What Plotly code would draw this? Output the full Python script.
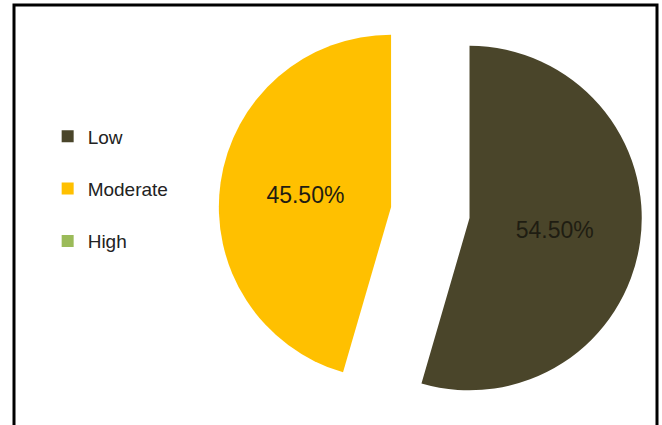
import plotly.graph_objects as go

categories = ["Low", "Moderate", "High"]
values = [54.5, 45.5, 0.0]
colors = ["#4A452A", "#FFC000", "#9BBB59"]

legend_labels = [c + "<br> " for c in categories]
text_labels = [f"{v:.2f}%" for v in values]

fig = go.Figure(
    go.Pie(
        labels=legend_labels,
        values=values,
        text=text_labels,
        textinfo="text",
        textposition="inside",
        insidetextorientation="horizontal",
        textfont=dict(family="Liberation Sans Narrow, Liberation Sans, sans-serif", size=23, color="#1f1d12"),
        marker=dict(colors=colors, line=dict(width=0)),
        sort=False,
        direction="clockwise",
        rotation=0,
        pull=[0.23, 0.23, 0.0],
        domain=dict(x=[0.33, 0.97], y=[0.0, 1.0]),
        hoverinfo="skip",
    )
)

fig.update_layout(
    width=662,
    height=425,
    margin=dict(l=0, r=0, t=0, b=0),
    paper_bgcolor="white",
    plot_bgcolor="white",
    showlegend=True,
    legend=dict(
        x=0.072,
        y=0.724,
        xanchor="left",
        yanchor="top",
        valign="top",
        font=dict(family="Liberation Sans, sans-serif", size=19, color="#222222"),
        bgcolor="rgba(0,0,0,0)",
    ),
    shapes=[
        dict(
            type="rect",
            xref="paper",
            yref="paper",
            x0=14 / 662,
            x1=657 / 662,
            y0=-0.1,
            y1=1 - 5 / 425,
            line=dict(color="black", width=3),
            fillcolor="rgba(0,0,0,0)",
            layer="above",
        )
    ],
)

fig.write_html("out.html")
